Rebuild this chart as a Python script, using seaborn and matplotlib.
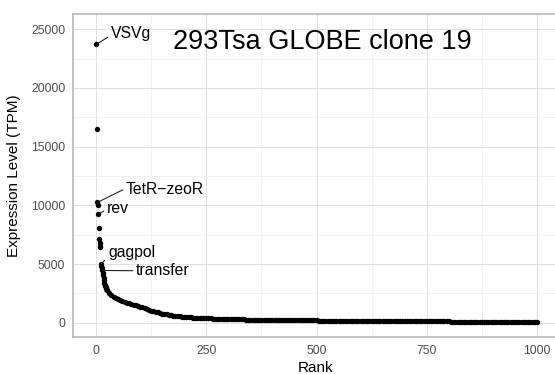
import numpy as np
import pandas as pd
import matplotlib
matplotlib.use("Agg")
import matplotlib.pyplot as plt
import seaborn as sns

# ---------------- data ----------------
# individually resolved top-ranked transcripts (rank 1..24)
top_ranks = list(range(1, 25))
top_values = [23725, 16520, 10250, 10050, 9270, 8100, 7150, 6750, 6550, 6450,
              5000, 4850, 4650, 4450, 4250, 4050, 3800, 3600, 3400, 3250,
              3120, 3000, 2900, 2820]

# dense tail, read every 5 ranks (25..1000)
tail_ranks = list(range(25, 1001, 5))
tail_values = [
    2750, 2500, 2330, 2220, 2120, 2030, 1950, 1840, 1780, 1710,
    1650, 1590, 1530, 1470, 1420, 1360,
    1300, 1230, 1160, 1080, 1030, 970, 920, 870, 820, 780,
    740, 700, 670, 640, 610, 585, 560, 540, 520, 500,
    485, 470, 455, 440, 428, 415, 404, 394, 385, 376,
    368, 360, 352, 345, 338, 331, 325, 318, 312, 307,
    302, 297, 292, 287, 283, 279, 275, 271, 267, 263,
    259, 255, 251, 248, 245, 242, 239, 236, 233, 230,
    227, 224, 221, 218, 216, 214, 212, 210, 208, 206,
    204, 202, 200, 198, 196, 194, 193, 191, 190, 188,
    187, 185, 184, 182, 181, 180, 178, 177, 176, 174,
    173, 172, 170, 169, 168, 166, 165, 164, 162, 161,
    159, 158, 156, 155, 153, 152, 150, 149, 147, 146,
    144, 143, 141, 140, 138, 137, 135, 134, 132, 131,
    129, 128, 126, 125, 123, 122, 120, 119, 118, 116,
    115, 114, 112, 111, 110, 108, 107, 106, 104, 103,
    102, 101, 100, 99, 98, 97, 96, 95, 94, 93,
    92, 91, 90, 89, 88, 87, 86, 85, 84, 83,
    82, 81, 80, 79, 78, 77, 76, 75, 74, 73,
    72, 71, 70, 69, 68, 67, 66, 65, 64, 62,
]

# labelled genes: name, rank of the point
label_names = ["VSVg", "TetR\u2212zeoR", "rev", "gagpol", "transfer"]
label_ranks = [1, 3, 5, 11, 14]

x_ticks = [0, 250, 500, 750, 1000]
y_ticks = [0, 5000, 10000, 15000, 20000, 25000]
title_text = "293Tsa GLOBE clone 19"
x_label = "Rank"
y_label = "Expression Level (TPM)"

df = pd.DataFrame({"Rank": top_ranks + tail_ranks,
                   "TPM": top_values + tail_values})

# ---------------- styling ----------------
sns.set_style("white")
plt.rcParams["font.family"] = ["Liberation Sans", "DejaVu Sans"]

W, H = 555, 374
fig = plt.figure(figsize=(W / 100, H / 100), dpi=100)
# panel: left 73px, top 14px, bottom 337px, right edge cropped at ~559px
ax = fig.add_axes([73 / W, 1 - 337 / H, 486 / W, 323 / H])

sns.scatterplot(data=df, x="Rank", y="TPM", ax=ax, color="black",
                s=15, linewidth=0, zorder=3, legend=False)

ax.set_xlim(-52.2, 1049.9)
ax.set_ylim(-1218, 26304)

ax.set_xticks(x_ticks)
ax.set_xticklabels([str(t) for t in x_ticks])
ax.set_yticks(y_ticks)
ax.set_yticklabels([str(t) for t in y_ticks])
ax.set_xticks([125, 375, 625, 875], minor=True)
ax.set_yticks([2500, 7500, 12500, 17500, 22500], minor=True)

ax.grid(which="major", color="#E0E0E0", linewidth=0.7, zorder=0)
ax.grid(which="minor", color="#EDEDED", linewidth=0.5, zorder=0)
ax.set_axisbelow(True)

for side in ["left", "bottom", "top", "right"]:
    ax.spines[side].set_color("#B3B3B3")
    ax.spines[side].set_linewidth(1.1)

ax.tick_params(axis="both", which="major", length=3.5, width=0.6,
               color="#B3B3B3", labelsize=8.8, labelcolor="#4D4D4D", pad=2)
ax.tick_params(axis="both", which="minor", length=0)

ax.set_xlabel(x_label, fontsize=11, color="black", labelpad=3)
ax.set_ylabel(y_label, fontsize=11, color="black", labelpad=7)

# title placed inside the panel
ax.text(514, 23900, title_text, fontsize=19.5, color="black",
        ha="center", va="center")

# labels with leader lines (text positions in data units)
label_text_x = [34, 68, 25, 27, 91]
label_text_y = [24685, 11392, 9773, 5950, 4430]
label_relpos = [(0, 0.35), (0, 0.55), (0, 0.4), (0, 0.2), (0, 0.5)]
lookup = dict(zip(df["Rank"], df["TPM"]))
for name, r, tx, ty, rp in zip(label_names, label_ranks, label_text_x,
                               label_text_y, label_relpos):
    ax.annotate(name, xy=(r, lookup[r]), xytext=(tx, ty),
                textcoords="data", fontsize=11.3, color="black",
                ha="left", va="center",
                arrowprops=dict(arrowstyle="-", color="#222222", lw=0.8,
                                shrinkA=0, shrinkB=0.5, relpos=rp))

fig.savefig("out.png", dpi=100)
